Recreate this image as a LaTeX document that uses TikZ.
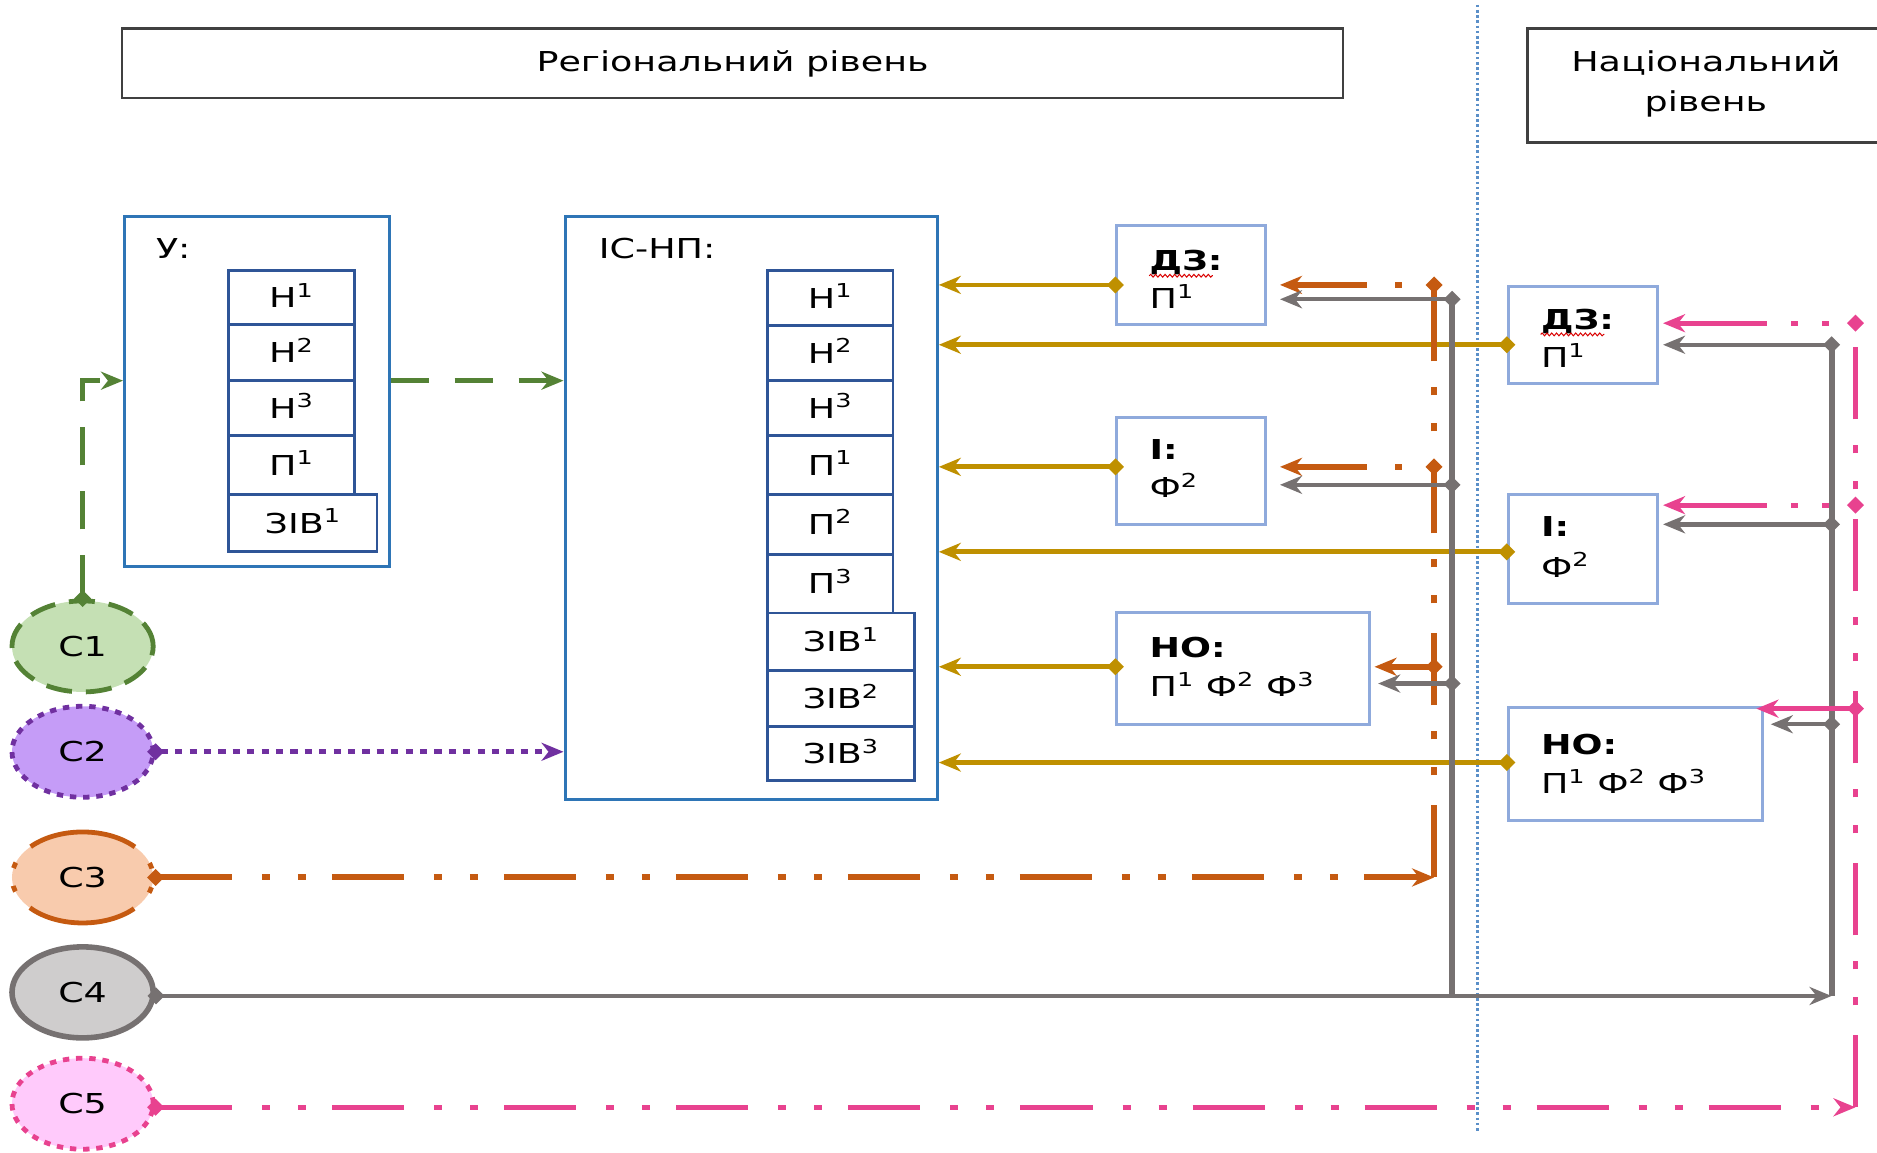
\documentclass[tikz,border=0pt]{standalone}
\usepackage{fontspec}
\setmainfont{DejaVu Sans}[FakeStretch=1.33]
\usetikzlibrary{arrows.meta,shapes.geometric,fit,calc,decorations.pathmorphing}
\definecolor{cgold}{HTML}{BF9000}
\definecolor{corange}{HTML}{C55A11}
\definecolor{cgray}{HTML}{767171}
\definecolor{cpink}{HTML}{E8428F}
\definecolor{cgreen}{HTML}{548235}
\definecolor{cpurple}{HTML}{7030A0}
\definecolor{fgreen}{HTML}{C5E0B4}
\definecolor{fpurple}{HTML}{C59CF7}
\definecolor{forange}{HTML}{F8CBAD}
\definecolor{fgray}{HTML}{CFCDCD}
\definecolor{fpink}{HTML}{FFCAFB}
\definecolor{bmain}{HTML}{2E75B6}
\definecolor{bcell}{HTML}{2F5597}
\definecolor{blight}{HTML}{8FAADC}
\definecolor{csep}{HTML}{5B8FC8}
\tikzset{
  txt/.style={inner sep=0pt, font=\fontsize{13.7}{16}\selectfont},
  ctr/.style={text height=10pt, text depth=0pt},
  lbl/.style={txt, anchor=base west},
  hdr/.style={draw=black!75, line width=1.3pt, inner sep=0pt},
  bigbox/.style={draw=bmain, line width=1.5pt, inner sep=0pt},
  cell/.style 2 args={draw=bcell, line width=1.4pt, inner sep=0pt, txt, ctr,
     minimum width=#1*0.5985pt, minimum height=#2*0.5985pt},
  smallbox/.style={draw=blight, line width=1.5pt, inner sep=0pt},
  circ/.style={ellipse, inner sep=0pt, minimum width=70.6pt, minimum height=45.5pt, txt, ctr, line width=2.4pt},
  da/.style={arrows={Turned Square[length=8.5pt,width=8.5pt]-Stealth[length=11pt,width=9pt,inset=3.5pt]}, shorten <=-4.25pt},
  ea/.style={arrows={-Stealth[length=11pt,width=9pt,inset=3.5pt]}},
  ldd/.style={dash pattern=on 36pt off 15pt on 4pt off 14pt on 4pt off 13pt},
  brd/.style={dash pattern=on 80pt off 11pt on 3.5pt off 12pt on 3.5pt off 12pt, dash phase=80pt},
  brd1/.style={dash pattern=on 80pt off 14pt on 3.5pt off 14pt, dash phase=80pt},
  goldln/.style={draw=cgold, line width=2.4pt, da},
  orln/.style={draw=corange, line width=3pt},
  grv/.style={draw=cgray, line width=3pt},
  grb/.style={draw=cgray, line width=2.2pt, da},
  pkln/.style={draw=cpink, line width=2.6pt},
  sepln/.style={draw=csep, line width=1.3pt, dash pattern=on 1.3pt off 1.3pt},
  wavy/.style={draw=red!85!black, line width=0.5pt, decorate, decoration={snake, amplitude=0.7pt, segment length=2.4pt}}
}
\begin{document}
\begin{tikzpicture}[x=0.5985pt,y=-0.5985pt]
\useasboundingbox (0,0) rectangle (1568,963);

% separator
\coordinate (s1) at (1234,4);
\coordinate (s2) at (1234,946);
\draw[sepln] (s1) -- (s2);

% headers
\node[hdr, fit={(102,24)(1122,82)}] (hreg) {};
\node[txt, anchor=base] (hregt) at (612,60) {Регіональний рівень};
\node[hdr, fit={(1276,24)(1590,119)}] (hnat) {};
\node[txt, anchor=base] (hnat1) at (1425,60) {Національний};
\node[txt, anchor=base] (hnat2) at (1425,93) {рівень};

% Y box
\node[bigbox, fit={(104,181)(325,473)}] (u) {};
\node[lbl] (ut) at (130,216) {У:};
\node[cell={105}{45}] (u1) at (243.5,248.5) {Н\textsuperscript{1}};
\node[cell={105}{47}] (u2) at (243.5,294.5) {Н\textsuperscript{2}};
\node[cell={105}{46}] (u3) at (243.5,341) {Н\textsuperscript{3}};
\node[cell={105}{49}] (u4) at (243.5,388.5) {П\textsuperscript{1}};
\node[cell={124}{48}] (u5) at (253,437) {ЗІВ\textsuperscript{1}};

% IS-NP box
\node[bigbox, fit={(472,181)(783,668)}] (isnp) {};
\node[lbl] (isnpt) at (500,216) {ІС-НП:};
\node[cell={105}{46}] (i1) at (693.5,249) {Н\textsuperscript{1}};
\node[cell={105}{46}] (i2) at (693.5,295) {Н\textsuperscript{2}};
\node[cell={105}{46}] (i3) at (693.5,341) {Н\textsuperscript{3}};
\node[cell={105}{49}] (i4) at (693.5,388.5) {П\textsuperscript{1}};
\node[cell={105}{50}] (i5) at (693.5,438) {П\textsuperscript{2}};
\node[cell={105}{49}] (i6) at (693.5,487.5) {П\textsuperscript{3}};
\node[cell={123}{48}] (i7) at (702.5,536) {ЗІВ\textsuperscript{1}};
\node[cell={123}{47}] (i8) at (702.5,583.5) {ЗІВ\textsuperscript{2}};
\node[cell={123}{45}] (i9) at (702.5,629.5) {ЗІВ\textsuperscript{3}};

% regional small boxes
\node[smallbox, fit={(933,188)(1057,271)}] (rdz) {};
\node[lbl] (rdza) at (960,226) {\textbf{ДЗ:}};
\node[lbl] (rdzb) at (960,258) {П\textsuperscript{1}};
\node[smallbox, fit={(933,349)(1057,438)}] (ri) {};
\node[lbl] (ria) at (960,384) {\textbf{І:}};
\node[lbl] (rib) at (960,416) {Ф\textsuperscript{2}};
\node[smallbox, fit={(933,512)(1144,605)}] (rno) {};
\node[lbl] (rnoa) at (960,549) {\textbf{НО:}};
\node[lbl] (rnob) at (960,582) {П\textsuperscript{1} Ф\textsuperscript{2} Ф\textsuperscript{3}};

% national small boxes
\node[smallbox, fit={(1260,239)(1385,320)}] (ndz) {};
\node[lbl] (ndza) at (1287,275) {\textbf{ДЗ:}};
\node[lbl] (ndzb) at (1287,307) {П\textsuperscript{1}};
\node[smallbox, fit={(1260,413)(1385,504)}] (ni) {};
\node[lbl] (nia) at (1287,448) {\textbf{І:}};
\node[lbl] (nib) at (1287,482) {Ф\textsuperscript{2}};
\node[smallbox, fit={(1260,591)(1472,685)}] (nno) {};
\node[lbl] (nnoa) at (1287,630) {\textbf{НО:}};
\node[lbl] (nnob) at (1287,663) {П\textsuperscript{1} Ф\textsuperscript{2} Ф\textsuperscript{3}};

% spell-check squiggles
\draw[wavy] ([yshift=-2.6pt]rdza.base west) -- ([xshift=-5pt,yshift=-2.6pt]rdza.base east);
\draw[wavy] ([yshift=-2.6pt]ndza.base west) -- ([xshift=-5pt,yshift=-2.6pt]ndza.base east);

% circles
\node[circ, fill=fgreen, draw=cgreen, dash pattern=on 13pt off 7pt] (c1) at (69,540) {С1};
\node[circ, fill=fpurple, draw=cpurple, dash pattern=on 3.2pt off 3.4pt] (c2) at (69,628) {С2};
\node[circ, fill=forange, draw=corange, dash pattern=on 55pt off 11pt on 3pt off 9pt on 3pt off 11pt, dash phase=73.5pt] (c3) at (69,733) {С3};
\node[circ, fill=fgray, draw=cgray, line width=2.8pt] (c4) at (69,829) {С4};
\node[circ, fill=fpink, draw=cpink, dash pattern=on 3.2pt off 3.4pt] (c5) at (69,922) {С5};

% level coordinates
\coordinate (yA) at (0,238);
\coordinate (yB) at (0,288);
\coordinate (yC) at (0,390);
\coordinate (yD) at (0,461);
\coordinate (yE) at (0,557);
\coordinate (yF) at (0,637);
\coordinate (yG) at (0,318);

% gold connectors
\draw[goldln] (rdz.west |- yA) -- (isnp.east |- yA);
\draw[goldln] (ndz.west |- yB) -- (isnp.east |- yB);
\draw[goldln] (ri.west |- yC) -- (isnp.east |- yC);
\draw[goldln] (ni.west |- yD) -- (isnp.east |- yD);
\draw[goldln] (rno.west |- yE) -- (isnp.east |- yE);
\draw[goldln] (nno.west |- yF) -- (isnp.east |- yF);

% green
\draw[draw=cgreen, line width=2.4pt, dash pattern=on 19pt off 13pt, da] (c1.north) |- (u.west |- yG);
\draw[draw=cgreen, line width=2.4pt, dash pattern=on 19pt off 13pt, ea] (u.east |- yG) -- (isnp.west |- yG);

% purple
\draw[draw=cpurple, line width=2.4pt, dash pattern=on 3.6pt off 3.6pt, da] (c2.east) -- (isnp.west |- c2.east);

% orange bus
\coordinate (oT) at (1198,238);
\coordinate (oM) at (1198,390);
\coordinate (oL) at (1198,557);
\coordinate (oC) at (1198,733);
\draw[orln, ldd, da] (c3.east) -- (oC);
\draw[orln, ldd] (oC) -- (oT);
\draw[orln, brd1, da] (oT) -- ($(rdz.east |- oT)+(11,0)$);
\draw[orln, brd1, da] (oM) -- ($(ri.east |- oM)+(11,0)$);
\draw[orln, da] (oL) -- ($(rno.east |- oL)+(3,0)$);

% gray left bus
\coordinate (gT) at (1213,250);
\coordinate (gM) at (1213,405);
\coordinate (gL) at (1213,571);
\coordinate (gB) at (1213,832);
\draw[grv] (gT) -- (gB);
\draw[grb] (gT) -- ($(rdz.east |- gT)+(11,0)$);
\draw[grb] (gM) -- ($(ri.east |- gM)+(11,0)$);
\draw[grb] (gL) -- ($(rno.east |- gL)+(6,0)$);

% gray right bus
\coordinate (hT) at (1530,288);
\coordinate (hM) at (1530,438);
\coordinate (hL) at (1530,605);
\coordinate (hB) at (1530,832);
\draw[grv] (hT) -- (hB);
\draw[grb] (hT) -- ($(ndz.east |- hT)+(3,0)$);
\draw[grb] (hM) -- ($(ni.east |- hM)+(3,0)$);
\draw[grb] (hL) -- ($(nno.east |- hL)+(6,0)$);
\draw[draw=cgray, line width=2.4pt, da] (c4.east |- hB) -- (hB);

% pink bus
\coordinate (pT) at (1550,270);
\coordinate (pM) at (1550,422);
\coordinate (pL) at (1550,592);
\coordinate (pB) at (1550,925);
\draw[pkln, ldd, da] (c5.east |- pB) -- (pB);
\draw[pkln, ldd] (pB) -- (pT);
\draw[pkln, brd, da] (pT) -- ($(ndz.east |- pT)+(3,0)$);
\draw[pkln, brd, da] (pM) -- ($(ni.east |- pM)+(3,0)$);
\draw[pkln, da] (pL) -- ($(nno.east |- pL)+(-6,0)$);
\end{tikzpicture}
\end{document}
